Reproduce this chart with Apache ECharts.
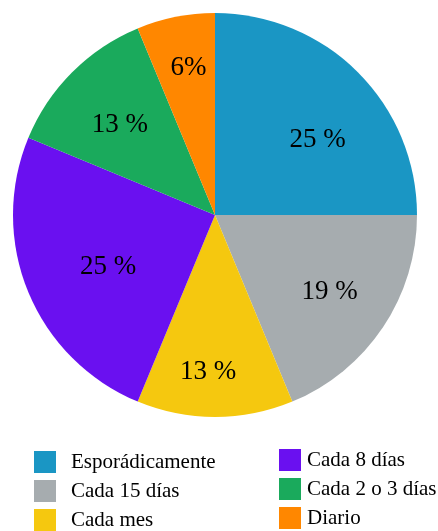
<!DOCTYPE html>
<html>
<head>
<meta charset="utf-8">
<script src="https://cdn.jsdelivr.net/npm/echarts@6/dist/echarts.min.js"></script>
<style>
  html, body { margin: 0; padding: 0; background: #ffffff; }
  #main { width: 438px; height: 531px; }
</style>
</head>
<body>
<div id="main"></div>
<script>
// frecuencia de respuesta (porcentajes)
var categories = ['Esporádicamente', 'Cada 15 días', 'Cada mes', 'Cada 8 días', 'Cada 2 o 3 días', 'Diario'];
var values = [25, 18.75, 12.5, 25, 12.5, 6.25];
var pctLabels = ['25 %', '19 %', '13 %', '25 %', '13 %', '6%'];
var colors = ['#1a96c4', '#a6acaf', '#f5c80f', '#6a10f0', '#1aaa5c', '#ff8700'];

var legendLeft = ['Esporádicamente', 'Cada 15 días', 'Cada mes'];
var legendRight = ['Cada 8 días', 'Cada 2 o 3 días', 'Diario'];

// where each percentage label sits: distance from centre and a small angle nudge (deg)
var labelDist = [127, 138, 157, 119, 131, 149];
var labelNudge = [9, 0, 2.5, -3.5, -1.5, 1];

var cx = 215, cy = 215;
var serif = "'Liberation Serif', 'Times New Roman', serif";

var total = values.reduce(function (a, b) { return a + b; }, 0);
var midAngles = [];
var acc = 0;
values.forEach(function (v) {
  midAngles.push((acc + v / 2) / total * 360);
  acc += v;
});

var myChart = echarts.init(document.getElementById('main'));

var data = categories.map(function (name, i) {
  return { name: name, value: values[i], itemStyle: { color: colors[i] } };
});

var legendText = {
  fontFamily: serif,
  fontSize: 21,
  color: '#000000'
};

var option = {
  animation: false,
  legend: [
    {
      data: legendLeft,
      orient: 'vertical',
      left: 34,
      top: 451,
      height: 150,
      padding: 0,
      itemWidth: 22,
      itemHeight: 22,
      itemGap: 7,
      icon: 'rect',
      textStyle: Object.assign({ padding: [0, 0, 0, 10] }, legendText)
    },
    {
      data: legendRight,
      orient: 'vertical',
      left: 279,
      top: 449,
      height: 150,
      padding: 0,
      itemWidth: 22,
      itemHeight: 22,
      itemGap: 7,
      icon: 'rect',
      textStyle: Object.assign({ padding: [0, 0, 0, 1] }, legendText)
    }
  ],
  series: [
    {
      type: 'pie',
      center: [cx, cy],
      radius: [0, 202],
      startAngle: 90,
      clockwise: true,
      data: data,
      label: {
        show: true,
        position: 'inside',
        fontFamily: serif,
        fontSize: 27,
        color: '#000000',
        formatter: function (p) { return pctLabels[p.dataIndex]; }
      },
      labelLine: { show: false },
      labelLayout: function (params) {
        var i = params.dataIndex;
        var a = (midAngles[i] + labelNudge[i]) * Math.PI / 180;
        return {
          x: cx + labelDist[i] * Math.sin(a),
          y: cy - labelDist[i] * Math.cos(a),
          align: 'center',
          verticalAlign: 'middle'
        };
      },
      emphasis: { disabled: true }
    }
  ]
};

myChart.setOption(option);
</script>
</body>
</html>
